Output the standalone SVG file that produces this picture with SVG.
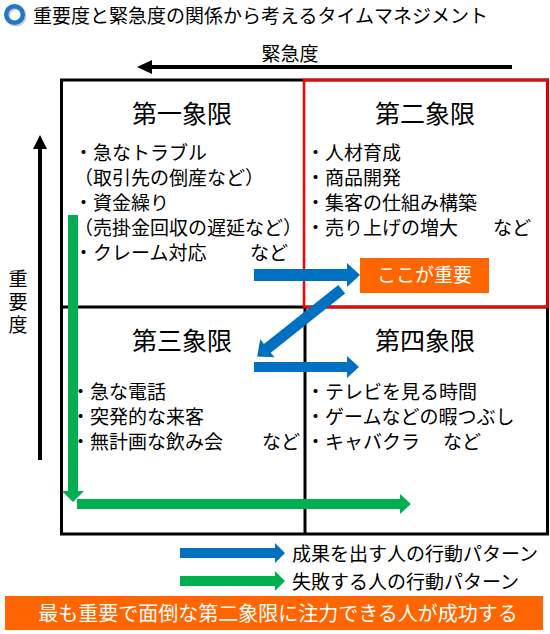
<svg xmlns="http://www.w3.org/2000/svg" width="550" height="634" viewBox="0 0 550 634">
<style>
text{font-family:"Noto Sans CJK JP","Noto Sans",sans-serif;fill:#000}
.h{font-size:25px;text-anchor:middle}
.li{font-size:19px}
.t{font-size:19px}
.w{fill:#fff}
.blue{fill:#0070C0}
.green{fill:#00B050}
.axis{stroke:#000;stroke-width:4;fill:none}
</style>
<rect width="550" height="634" fill="#fff"/>
<g id="title">
<circle cx="16" cy="16" r="8.3" fill="none" stroke="#9a9a9a" stroke-width="4.5" opacity="0.5"/>
<circle cx="14.5" cy="14.5" r="8.3" fill="none" stroke="#1F78C8" stroke-width="4.5"/>
<text x="33" y="23" class="t">重要度と緊急度の関係から考えるタイムマネジメント</text>
</g>
<g id="axis-urgency">
<text x="290" y="61" class="t" text-anchor="middle">緊急度</text>
</g>
<g id="axis-importance">
<text x="18" y="269" class="t" writing-mode="vertical-rl" letter-spacing="4">重要度</text>
</g>
<g id="grid">
<rect x="61.5" y="80" width="486" height="454" fill="none" stroke="#000" stroke-width="3"/>
<line x1="61.5" y1="307" x2="304" y2="307" stroke="#000" stroke-width="3"/>
<line x1="305" y1="307" x2="305" y2="534" stroke="#000" stroke-width="3"/>
<line x1="304" y1="307" x2="547.5" y2="307" stroke="#000" stroke-width="3"/>
<rect x="304" y="80" width="243.5" height="227" fill="none" stroke="#FF0000" stroke-width="2.5"/>
</g>
<g id="q1">
<text x="182" y="123" class="h">第一象限</text>
<text class="li"><tspan x="74" y="160">・急なトラブル</tspan><tspan x="74" y="185">（取引先の倒産など）</tspan><tspan x="74" y="210">・資金繰り</tspan><tspan x="74" y="235">（売掛金回収の遅延など）</tspan><tspan x="74" y="260">・クレーム対応</tspan><tspan x="250" y="260">など</tspan></text>
</g>
<g id="q2">
<text x="425" y="123" class="h">第二象限</text>
<text class="li"><tspan x="306" y="160">・人材育成</tspan><tspan x="306" y="185">・商品開発</tspan><tspan x="306" y="210">・集客の仕組み構築</tspan><tspan x="306" y="235">・売り上げの増大</tspan><tspan x="493" y="235">など</tspan></text>
</g>
<g id="q3">
<text x="182" y="350" class="h">第三象限</text>
<text class="li"><tspan x="71" y="399">・急な電話</tspan><tspan x="71" y="424">・突発的な来客</tspan><tspan x="71" y="449">・無計画な飲み会</tspan><tspan x="262" y="449">など</tspan></text>
</g>
<g id="q4">
<text x="425" y="350" class="h">第四象限</text>
<text class="li"><tspan x="306" y="399">・テレビを見る時間</tspan><tspan x="306" y="424">・ゲームなどの暇つぶし</tspan><tspan x="306" y="449">・キャバクラ</tspan><tspan x="443" y="449">など</tspan></text>
</g>
<g id="badge">
<rect x="360" y="258" width="129" height="35" fill="#FF6600"/>
<text x="424.5" y="282" class="t w" text-anchor="middle">ここが重要</text>
</g>
<g id="connectors">
<line class="axis" x1="512" y1="67" x2="150" y2="67"/>
<polygon points="137,67 152,60 152,74" fill="#000"/>
<line class="axis" x1="40" y1="460" x2="40" y2="147"/>
<polygon points="40,135 33,149 47,149" fill="#000"/>
<polygon class="blue" points="254,269 347,269 347,263 360,275 347,287 347,281 254,281"/>
<polygon class="blue" transform="translate(341.7,289.2) rotate(141.5)" points="0,-5.5 95,-5.5 95,-11.5 108,0 95,11.5 95,5.5 0,5.5"/>
<polygon class="blue" points="254,362 347,362 347,356 359,367 347,378 347,372 254,372"/>
<polygon class="green" points="68,215 78,215 78,491 84,491 73,502 62,491 68,491"/>
<polygon class="green" points="77,499 400,499 400,494 411,504 400,514 400,509 77,509"/>
</g>
<g id="legend">
<polygon class="blue" points="180,548 275,548 275,543 285,553 275,563 275,558 180,558"/>
<text x="292" y="561" class="t">成果を出す人の行動パターン</text>
<polygon class="green" points="180,576 275,576 275,571 285,581 275,591 275,586 180,586"/>
<text x="292" y="589" class="t">失敗する人の行動パターン</text>
</g>
<g id="banner">
<rect x="5" y="596" width="538" height="34" fill="#FF6600"/>
<text x="278" y="621" class="w" font-size="20" text-anchor="middle">最も重要で面倒な第二象限に注力できる人が成功する</text>
</g>
</svg>
